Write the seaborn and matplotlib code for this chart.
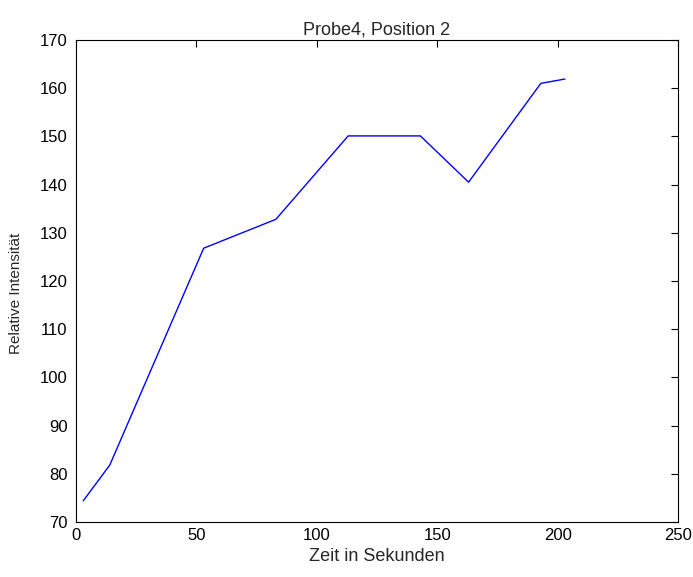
import numpy as np
import pandas as pd
import matplotlib
matplotlib.use("Agg")
import matplotlib.pyplot as plt
import seaborn as sns

zeit = [3, 14, 53, 83, 113, 143, 163, 193, 203]
intensitaet = [74.4, 81.8, 126.8, 132.8, 150.1, 150.1, 140.5, 161.0, 161.9]

x_ticks = [0, 50, 100, 150, 200, 250]
y_ticks = [70, 80, 90, 100, 110, 120, 130, 140, 150, 160, 170]

sns.set_style("white")
plt.rcParams['font.family'] = ['Liberation Sans', 'DejaVu Sans']

df = pd.DataFrame({'zeit': zeit, 'intensitaet': intensitaet})

fig = plt.figure(figsize=(6.93, 5.77), dpi=100)
ax = fig.add_axes([0.1097, 0.0953, 0.8688, 0.8354])
sns.lineplot(data=df, x='zeit', y='intensitaet', color='#0000ff', linewidth=1.0, ax=ax)

ax.set_xlim(0, 250)
ax.set_ylim(70, 170)
ax.set_xticks(x_ticks)
ax.set_yticks(y_ticks)
ax.tick_params(direction='in', length=5, width=0.8, labelsize=12,
               top=True, right=True, colors='black')
ax.tick_params(axis='y', pad=6)
ax.tick_params(axis='x', pad=4)
for s in ax.spines.values():
    s.set_visible(True)
    s.set_color('black')
    s.set_linewidth(0.8)

ax.set_title('Probe4, Position 2', fontsize=13, pad=4)
ax.set_xlabel('Zeit in Sekunden', fontsize=13, labelpad=4)
ax.set_ylabel('Relative Intensität', fontsize=11)
ax.yaxis.set_label_coords(-0.088, 0.474)

fig.savefig('out.png', dpi=100)
